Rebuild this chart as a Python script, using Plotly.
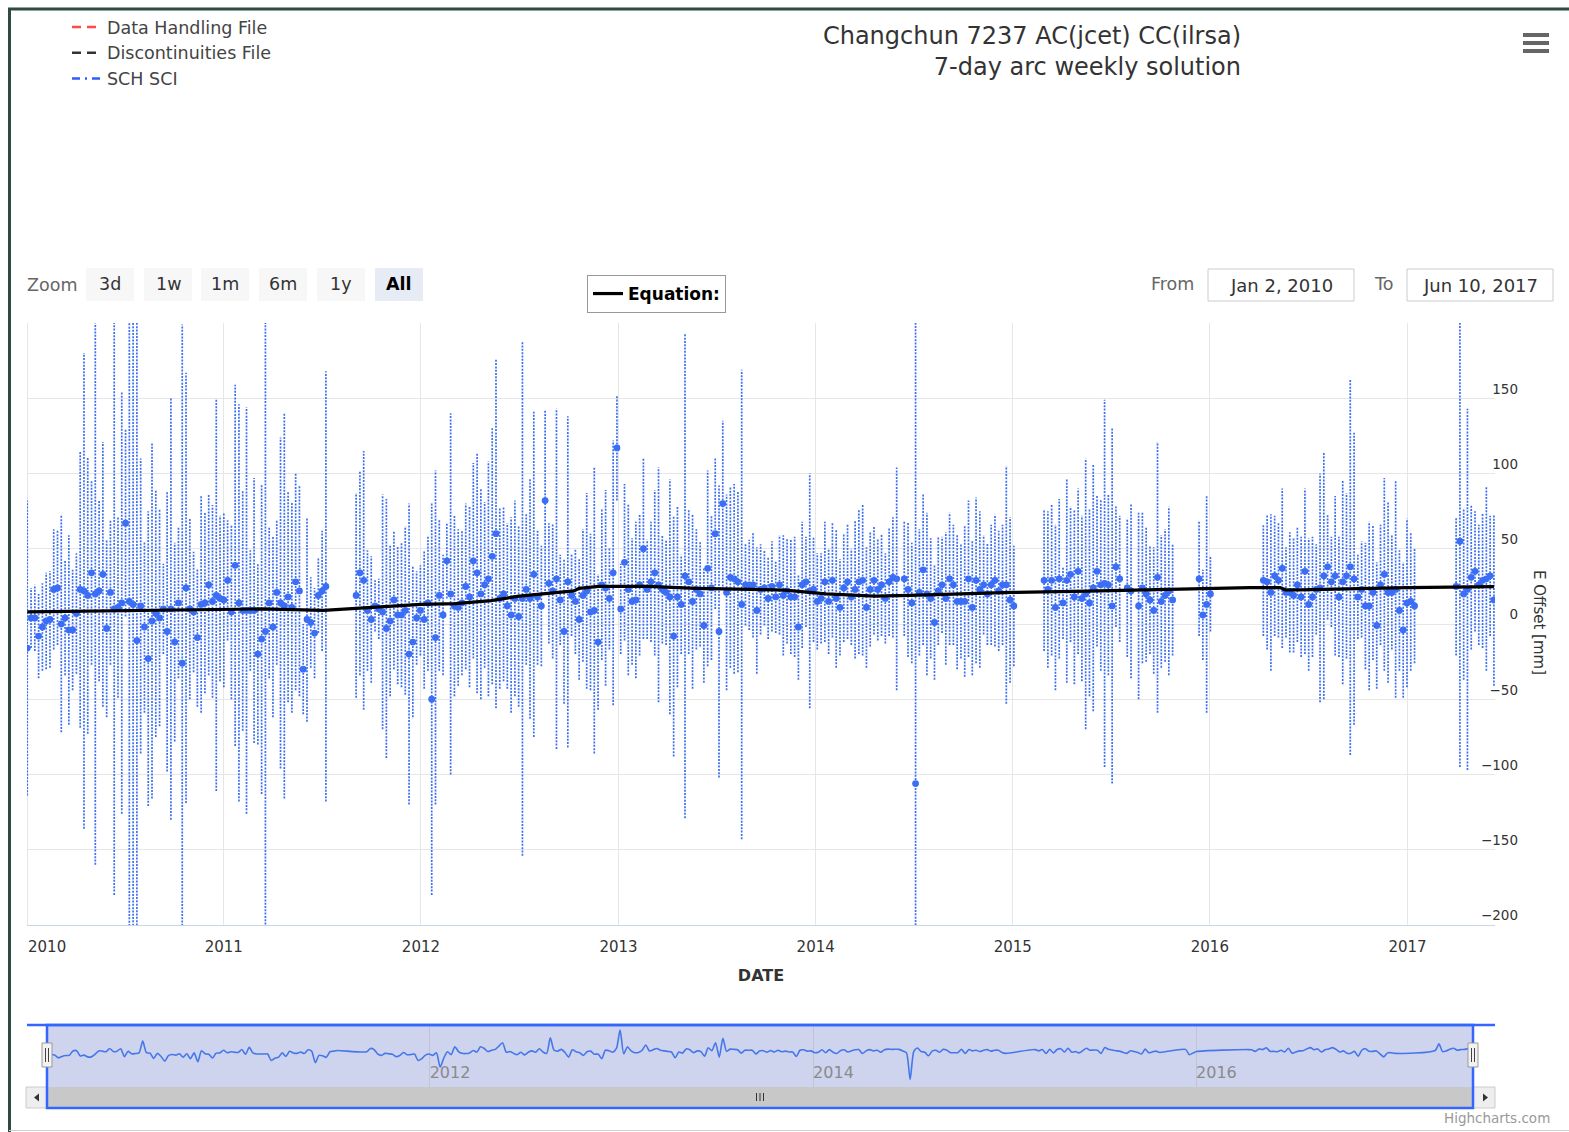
import datetime as dt
import plotly.graph_objects as go

FIG_W, FIG_H = 1569, 1132
FONT = "DejaVu Sans"

# ---------------------------------------------------------------- data
BASE_DATE = dt.date(2010, 1, 2)          # first weekly solution
# week index (from BASE_DATE) of the first solution of each continuous block
SEG_START_WEEK = [0, 87, 232, 269, 291, 294, 310, 327, 378]

OFF_2010 = [-16, 4, 4, -8, -2, 2, 3, 23, 24, 0,
            4, -4, -4, 7, 23, 22, 19, 34, 20, 22,
            33, -3, 21, 10, 11, 14, 67, 15, 13, -11,
            12, -2, -23, 2, 7, 4, 10, -5, 10, -12,
            14, -26, 24, 10, 8, -9, 13, 14, 26, 15,
            19, 17, 16, 29, 8, 39, 14, 9, 9, 9,
            9, -20, -10, -5, 14, -2, 21, 14, 12, 18,
            11, 28, 22, -30, 3, 1, -6, 19, 22, 25]
SIG_2010 = [98, 20, 22, 28, 29, 32, 32, 40, 38, 72,
            38, 63, 40, 40, 92, 158, 92, 61, 180, 60,
            88, 59, 48, 190, 60, 140, 62, 220, 220, 220,
            98, 57, 98, 118, 82, 72, 30, 93, 140, 66,
            50, 225, 143, 60, 40, 46, 72, 60, 60, 64,
            130, 55, 58, 40, 58, 120, 132, 80, 135, 40,
            88, 60, 103, 210, 50, 60, 48, 110, 128, 70,
            70, 72, 70, 30, 68, 30, 30, 25, 40, 143]

OFF_2011 = [19, 34, 29, 9, 3, 12, 10, 8, -3, 2,
            16, 6, 6, 9, -20, -12, 4, 9, 3, 14,
            -50, -9, 19, 6, 42, 20, 12, 11, 14, 25,
            18, 42, 34, 20, 26, 30, 45, 60, 17, 20,
            12, 6, 17, 5, 17, 23, 17, 33, 18, 12,
            82, 27, 22, 30, 16, -5, 28, 19, 15, 3,
            19, 22, 8, 9, -12, 26, 24, 17, 34, 117,
            10, 41, 23, 15, 16, 26, 50, 23, 28, 34,
            26, 23, 21, 18, -8, 18, 13, 32, 28, 15,
            23, 20, -1, 37, 24, 60, -5, 80, 21, 31,
            30, 28, 13, 26, 26, 26, 9, 23, 24, 17,
            25, 18, 26, 19, 22, 18, 18, -2, 26, 28,
            22, 23, 15, 17, 28, 15, 29, 17, 11, 24,
            28, 18, 23, 28, 29, 11, 23, 29, 23, 26,
            17, 28, 31, 30]
SIG_2011 = [68, 68, 86, 40, 42, 17, 20, 78, 86, 50,
            46, 46, 48, 56, 100, 50, 31, 30, 46, 45,
            130, 111, 50, 40, 25, 120, 60, 52, 48, 55,
            60, 65, 80, 70, 55, 78, 85, 116, 60, 58,
            55, 65, 65, 60, 171, 50, 80, 108, 45, 40,
            60, 40, 45, 113, 30, 48, 110, 27, 35, 40,
            44, 65, 52, 95, 45, 50, 65, 34, 88, 35,
            30, 52, 57, 42, 52, 47, 60, 33, 40, 55,
            78, 36, 35, 78, 80, 60, 33, 161, 48, 58,
            40, 35, 38, 65, 48, 50, 97, 55, 65, 60,
            63, 60, 156, 27, 30, 35, 42, 30, 25, 27,
            30, 24, 33, 40, 35, 38, 40, 35, 42, 30,
            78, 35, 32, 30, 40, 35, 38, 46, 32, 36,
            38, 32, 46, 48, 50, 40, 38, 36, 34, 34,
            30, 36, 40, 74]

OFF_2014 = [30, 23, 14, -106, 21, 36, 20, 17, 1, 22,
            26, 17, 30, 26, 15, 15, 15, 30, 11, 29,
            23, 26, 20, 26, 29, 22, 26, 26, 16, 12]
SIG_2014 = [38, 45, 40, 320, 42, 50, 54, 40, 38, 36,
            32, 44, 44, 40, 45, 38, 50, 52, 45, 55,
            52, 33, 34, 40, 44, 40, 40, 79, 55, 40]

OFF_2015A = [29, 23, 29, 11, 30, 14, 29, 33, 18, 35,
             17, 20, 14, 24, 35, 26, 27, 26, 12, 38, 30]
SIG_2015A = [47, 52, 50, 55, 53, 24, 68, 45, 58, 55,
             55, 90, 62, 82, 50, 57, 122, 60, 118, 40, 42]
OFF_2015B = [24, 22]
SIG_2015B = [46, 58]
OFF_2015C = [12, 24, 20, 16, 9, 31, 15, 19, 22, 16]
SIG_2015C = [62, 50, 45, 36, 42, 90, 44, 44, 56, 37]
OFF_2015D = [30, 6, 13, 20]
SIG_2015D = [38, 30, 72, 25]

OFF_2016 = [29, 28, 21, 32, 29, 37, 21, 21, 19, 26,
            18, 35, 13, 18, 23, 24, 32, 38, 28, 32,
            18, 28, 32, 38, 30, 18, 23, 12, 12, 21,
            -1, 26, 33, 21, 21, 23, 9, -4, 14, 15, 12]
SIG_2016 = [37, 45, 52, 40, 38, 53, 30, 40, 38, 38,
            40, 55, 44, 40, 30, 76, 82, 35, 30, 53,
            40, 68, 55, 125, 97, 28, 32, 42, 56, 45,
            42, 40, 64, 60, 38, 72, 40, 45, 56, 46, 38]

OFF_2017 = [25, 55, 20, 23, 31, 35, 26, 29, 30, 32, 16]
SIG_2017 = [46, 150, 57, 120, 48, 40, 40, 45, 61, 40, 57]

SEG_OFFSETS = [OFF_2010, OFF_2011, OFF_2014, OFF_2015A, OFF_2015B,
               OFF_2015C, OFF_2015D, OFF_2016, OFF_2017]
SEG_SIGMAS = [SIG_2010, SIG_2011, SIG_2014, SIG_2015A, SIG_2015B,
              SIG_2015C, SIG_2015D, SIG_2016, SIG_2017]

EQ_DATES = ["2010-01-02", "2010-08-15", "2011-03-10", "2011-07-05", "2011-08-28",
            "2011-10-25", "2012-01-01", "2012-03-05", "2012-05-10", "2012-07-01",
            "2012-10-10", "2012-10-20", "2012-11-25", "2013-02-25", "2013-05-25",
            "2013-09-25", "2013-11-05", "2014-01-20", "2014-04-20", "2014-06-25",
            "2014-09-25", "2014-12-30", "2015-05-20", "2015-12-25", "2016-03-15",
            "2016-05-10", "2016-05-20", "2016-06-15", "2017-01-01", "2017-06-10"]
EQ_VALUES = [8, 9, 10, 9, 10, 11.5, 13, 13.6, 15.5, 18.5,
             22, 23.7, 25, 25, 23.7, 22.7, 22.5, 20, 18.5, 19,
             20, 21, 21.9, 23.7, 24.2, 24.2, 22.7, 22.7, 24.2, 24.8]

X_RANGE = ["2010-01-01 12:00", "2017-06-12"]
X_TICK_DATES = ["2010-01-02", "2011-01-01", "2012-01-01", "2013-01-01",
                "2014-01-01", "2015-01-01", "2016-01-01", "2017-01-01"]
X_TICK_TEXT = ["2010", "2011", "2012", "2013", "2014", "2015", "2016", "2017"]
Y_TICKS = [-200, -150, -100, -50, 0, 50, 100, 150, 200]
NAV_TICK_DATES = ["2012-01-01", "2014-01-01", "2016-01-01"]
NAV_TICK_TEXT = ["2012", "2014", "2016"]
ZOOM_BUTTONS = ["3d", "1w", "1m", "6m", "1y", "All"]
LEGEND_NAMES = ["Data Handling File", "Discontinuities File", "SCH SCI"]
TITLE_LINES = ["Changchun 7237 AC(jcet) CC(ilrsa)", "7-day arc weekly solution"]
FROM_DATE, TO_DATE = "Jan 2, 2010", "Jun 10, 2017"

# ---------------------------------------------------------------- helpers
def px(x):
    return x / FIG_W


def py(y):
    return 1 - y / FIG_H


dates, vals, sigs = [], [], []
for start, offs, ss in zip(SEG_START_WEEK, SEG_OFFSETS, SEG_SIGMAS):
    for k, (v, s) in enumerate(zip(offs, ss)):
        dates.append(BASE_DATE + dt.timedelta(weeks=start + k))
        vals.append(v)
        sigs.append(s)

bar_x, bar_y = [], []
for d, v, s in zip(dates, vals, sigs):
    bar_x += [d, d, None]
    bar_y += [v - s, v + s, None]

BLUE = "#3b6ef5"

fig = go.Figure()

# legend-only entries (top-left legend)
fig.add_trace(go.Scatter(x=[None], y=[None], mode="lines", name=LEGEND_NAMES[0],
                         line=dict(color="#ff4a4a", width=2.5, dash="9px,6px"),
                         legend="legend"))
fig.add_trace(go.Scatter(x=[None], y=[None], mode="lines", name=LEGEND_NAMES[1],
                         line=dict(color="#333333", width=2.5, dash="9px,6px"),
                         legend="legend"))
fig.add_trace(go.Scatter(x=[None], y=[None], mode="lines", name=LEGEND_NAMES[2],
                         line=dict(color="#2f5cff", width=2.5, dash="8px,5px,2px,5px"),
                         legend="legend"))

# error bars (dotted)
fig.add_trace(go.Scatter(x=bar_x, y=bar_y, mode="lines", showlegend=False,
                         line=dict(color=BLUE, width=1.7, dash="2px,1.3px"),
                         hoverinfo="skip"))
# solution points
fig.add_trace(go.Scatter(x=dates, y=vals, mode="markers", showlegend=False,
                         marker=dict(color=BLUE, size=6.8, line=dict(width=0))))
# equation line
fig.add_trace(go.Scatter(x=EQ_DATES, y=EQ_VALUES, mode="lines", name="Equation:",
                         line=dict(color="#000000", width=3.2), legend="legend2"))
# navigator series
fig.add_trace(go.Scatter(x=dates, y=vals, mode="lines", showlegend=False,
                         xaxis="x2", yaxis="y2",
                         line=dict(color="#4677ea", width=1.6, shape="spline", smoothing=0.7),
                         hoverinfo="skip"))

# ---------------------------------------------------------------- shapes
shapes = []


def rect(x0, y0, x1, y1, fill="rgba(0,0,0,0)", lc="rgba(0,0,0,0)", lw=0, layer="above"):
    shapes.append(dict(type="rect", xref="paper", yref="paper",
                       x0=px(x0), x1=px(x1), y0=py(y1), y1=py(y0),
                       fillcolor=fill, line=dict(color=lc, width=lw), layer=layer))


def seg(x0, y0, x1, y1, color, width, layer="above"):
    shapes.append(dict(type="line", xref="paper", yref="paper",
                       x0=px(x0), x1=px(x1), y0=py(y0), y1=py(y1),
                       line=dict(color=color, width=width), layer=layer))


def poly(points, color):
    d = "M " + " L ".join(f"{px(a):.5f},{py(b):.5f}" for a, b in points) + " Z"
    shapes.append(dict(type="path", xref="paper", yref="paper", path=d,
                       fillcolor=color, line=dict(color=color, width=0)))


# outer container border
seg(8, 9, FIG_W, 9, "#2e4b3d", 3)
seg(9.5, 8, 9.5, FIG_H, "#2e4b3d", 3)
seg(9, 1130.5, FIG_W, 1130.5, "#d0d0d0", 1)

# left-edge grid line of the main plot
seg(27.5, 323, 27.5, 925, "#e6e6e6", 1, layer="below")

# hamburger menu
for yy in (33, 41, 49):
    rect(1523, yy, 1549, yy + 4, fill="#666666")

# range selector buttons
BTN_CX = [110, 168, 225, 283, 341, 399]
for cx, lab in zip(BTN_CX, ZOOM_BUTTONS):
    rect(cx - 24, 268, cx + 24, 301, fill="#e6ebf5" if lab == "All" else "#f7f7f7")

# from / to input boxes
rect(1208, 269, 1354, 301, fill="white", lc="#cccccc", lw=1)
rect(1407, 269, 1553, 301, fill="white", lc="#cccccc", lw=1)

# navigator mask over the plot area of the navigator
rect(47, 1025, 1473, 1087, fill="rgba(102,120,200,0.32)", layer="below")
# scrollbar
rect(47, 1087, 1473, 1108, fill="#c8c8c8")
rect(26, 1087, 47, 1108, fill="#eeeeee", lc="#cccccc", lw=1)
rect(1473, 1087, 1495, 1108, fill="#eeeeee", lc="#cccccc", lw=1)
poly([(34, 1097.5), (39, 1093.5), (39, 1101.5)], "#333333")
poly([(1488, 1097.5), (1483, 1093.5), (1483, 1101.5)], "#333333")
for gx in (756.5, 760, 763.5):
    seg(gx, 1093, gx, 1101, "#333333", 1)
# navigator outline
seg(27, 1025, 1495, 1025, "#3366ff", 2.5)
rect(47, 1025, 1473, 1108, lc="#3366ff", lw=2.5)
# navigator handles
for hx in (47, 1473):
    rect(hx - 5, 1043, hx + 5, 1067, fill="#f2f2f2", lc="#999999", lw=1)
    seg(hx - 1.5, 1048, hx - 1.5, 1062, "#444444", 1)
    seg(hx + 1.5, 1048, hx + 1.5, 1062, "#444444", 1)

# ---------------------------------------------------------------- annotations
anns = []


def ann(text, x, y, size, color="#333333", xanchor="center", textangle=0, bold=False):
    anns.append(dict(text=f"<b>{text}</b>" if bold else text, x=px(x), y=py(y),
                     xref="paper", yref="paper", xanchor=xanchor, yanchor="middle",
                     showarrow=False, textangle=textangle,
                     font=dict(family=FONT, size=size, color=color)))


ann("Zoom", 52, 285, 17.5, "#666666")
for cx, lab in zip(BTN_CX, ZOOM_BUTTONS):
    ann(lab, cx, 284, 17.5, "#000000" if lab == "All" else "#333333", bold=(lab == "All"))
ann("From", 1172, 284, 17.5, "#666666")
ann(FROM_DATE, 1281, 285, 18)
ann("To", 1383, 284, 17.5, "#666666")
ann(TO_DATE, 1480, 285, 18)
ann("E Offset [mm]", 1539, 622, 15, textangle=90)
ann("Highcharts.com", 1552, 1118, 13.5, "#999999", xanchor="right")
# first year label is justified inside the chart (as the reference does)
ann(X_TICK_TEXT[0], 26, 947, 15, xanchor="left")

x_ticktext = [""] + X_TICK_TEXT[1:]
y_ticktext = ["" if t == 200 else str(t).replace("-", "\u2212") for t in Y_TICKS]

fig.update_layout(
    width=FIG_W, height=FIG_H, autosize=False,
    margin=dict(l=0, r=0, t=0, b=0),
    paper_bgcolor="white", plot_bgcolor="rgba(0,0,0,0)",
    font=dict(family=FONT, color="#333333"),
    title=dict(text="<br>".join(TITLE_LINES), x=px(1241), xanchor="right",
               y=py(44), yanchor="top", xref="paper", yref="paper",
               font=dict(family=FONT, size=24, color="#333333")),
    xaxis=dict(type="date", domain=[px(27), px(1495)], range=X_RANGE, anchor="y",
               tickvals=X_TICK_DATES, ticktext=x_ticktext, ticks="",
               showgrid=True, gridcolor="#e6e6e6", gridwidth=1,
               showline=True, linecolor="#ccd6eb", linewidth=1,
               tickfont=dict(family=FONT, size=15, color="#333333"),
               ticklabelstandoff=8,
               automargin=False, zeroline=False,
               title=dict(text="<b>DATE</b>", standoff=14,
                          font=dict(family=FONT, size=16, color="#333333"))),
    yaxis=dict(domain=[py(925), py(323)], range=[-200, 200], anchor="x", side="right",
               tickvals=Y_TICKS, ticktext=y_ticktext, ticks="",
               showgrid=True, gridcolor="#e6e6e6", gridwidth=1, zeroline=False,
               showline=False, ticklabelposition="inside top", ticklabelstandoff=-26,
               tickfont=dict(family=FONT, size=13.5, color="#333333"),
               automargin=False),
    xaxis2=dict(type="date", domain=[px(47), px(1473)], range=X_RANGE, anchor="y2",
                tickvals=NAV_TICK_DATES, ticktext=NAV_TICK_TEXT, ticks="",
                showgrid=True, gridcolor="#bfc4d8", gridwidth=1, showline=False,
                zeroline=False, ticklabelposition="inside right",
                tickfont=dict(family=FONT, size=16, color="#8a8a8a"), automargin=False),
    yaxis2=dict(domain=[py(1087), py(1025)], range=[-140, 140], anchor="x2",
                visible=False, showgrid=False, zeroline=False),
    legend=dict(x=px(67), y=py(9), xanchor="left", yanchor="top",
                bgcolor="rgba(0,0,0,0)", borderwidth=0, tracegroupgap=0,
                font=dict(family=FONT, size=17.5, color="#444444")),
    legend2=dict(x=px(587), y=py(275), xanchor="left", yanchor="top",
                 bgcolor="white", bordercolor="#999999", borderwidth=1,
                 font=dict(family=FONT, size=17, color="#000000", weight="bold")),
    shapes=shapes, annotations=anns,
    showlegend=True, hovermode=False,
)

fig.write_html("out.html", config={"displayModeBar": False})
